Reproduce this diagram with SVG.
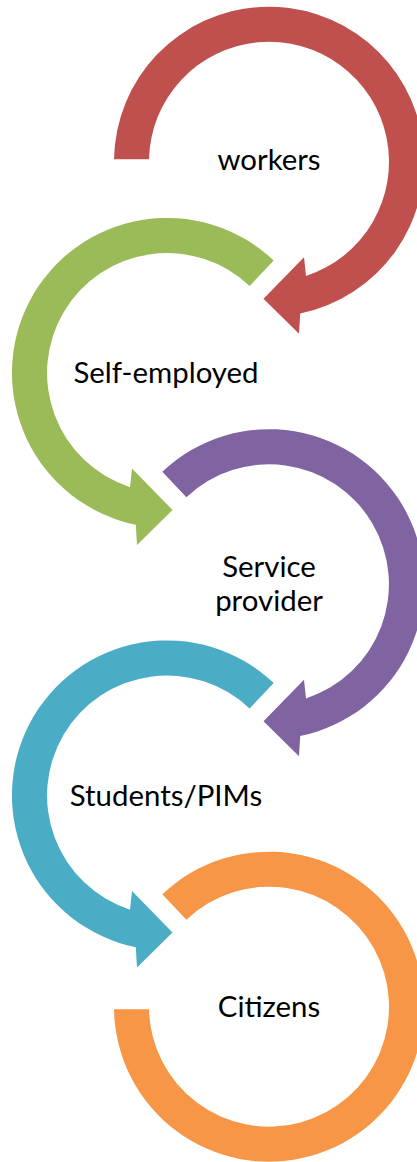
<svg xmlns="http://www.w3.org/2000/svg" width="417" height="1162" viewBox="0 0 417 1162">
<style>
.lbl{font-family:Lato,"Open Sans","Liberation Sans",sans-serif;font-size:29.4px;fill:#000;text-anchor:middle}
</style>
<rect width="417" height="1162" fill="#fff"/>
<g id="connectors"></g>
<g id="node-workers">
<path fill="#C0504D" d="M 114.02 159.2 A 155 155 0 1 1 300.2 313.5 L 299 333.7 L 263.5 298.7 L 304 257.2 L 306 275.9 A 120 120 0 1 0 149.03 159.2 Z"/>
<text class="lbl" x="269" y="170">workers</text>
</g>
<g id="node-self-employed">
<path fill="#9BBB59" d="M 273.69 260.52 A 155 155 0 1 0 135.8 524.75 L 137 544.95 L 172.5 509.95 L 132 468.45 L 130 487.15 A 120 120 0 1 1 249.6 285.91 Z"/>
<text class="lbl" x="166" y="383">Self-employed</text>
</g>
<g id="node-service-provider">
<path fill="#8064A2" d="M 162.31 471.77 A 155 155 0 1 1 300.2 736 L 299 756.2 L 263.5 721.2 L 304 679.7 L 306 698.4 A 120 120 0 1 0 186.4 497.16 Z"/>
<text class="lbl" x="269" y="577"><tspan x="269" y="577">Service</tspan><tspan x="269" y="611">provider</tspan></text>
</g>
<g id="node-students">
<path fill="#4BACC6" d="M 273.69 683.02 A 155 155 0 1 0 135.8 947.25 L 137 967.45 L 172.5 932.45 L 132 890.95 L 130 909.65 A 120 120 0 1 1 249.6 708.41 Z"/>
<text class="lbl" x="166" y="806">Students/PIMs</text>
</g>
<g id="node-citizens">
<path fill="#F79646" d="M 162.31 894.27 A 155 155 0 1 1 114.02 1009.2 L 149.03 1009.2 A 120 120 0 1 0 186.4 919.66 Z"/>
<text class="lbl" x="269" y="1017">Citizens</text>
</g>
</svg>
